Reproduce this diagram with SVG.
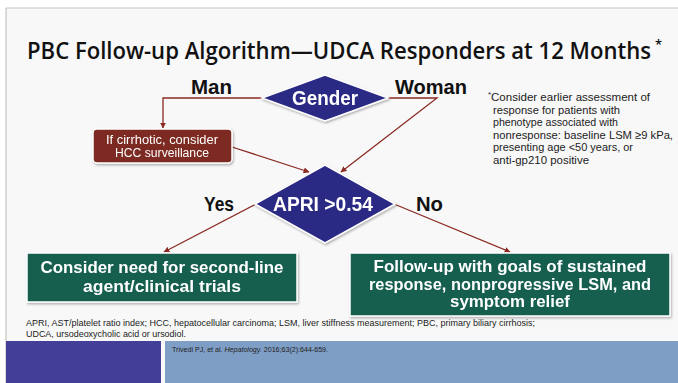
<svg xmlns="http://www.w3.org/2000/svg" width="678" height="383" viewBox="0 0 678 383">
  <defs>
    <style>
      .title { font-family: "Open Sans", "Liberation Sans", sans-serif; font-size: 23px; font-weight: 600; fill: #111; }
      .lbl { font-family: "Liberation Sans", "Noto Sans", sans-serif; font-size: 20px; font-weight: bold; fill: #111; }
      .dtxt { font-family: "Liberation Sans", "Noto Sans", sans-serif; font-size: 20px; font-weight: bold; fill: #fff; text-anchor: middle; }
      .btxt { font-family: "Liberation Sans", "Noto Sans", sans-serif; font-size: 17px; font-weight: bold; fill: #fff; text-anchor: middle; }
      .stxt { font-family: "Liberation Sans", "Noto Sans", sans-serif; font-size: 12px; fill: #fff; text-anchor: middle; }
      .note { font-family: "Liberation Sans", "Noto Sans", sans-serif; font-size: 11.5px; fill: #222; }
      .sup { font-family: "Liberation Sans", "Noto Sans", sans-serif; font-size: 8px; fill: #222; }
      .tsup { font-family: "Open Sans", "Liberation Sans", sans-serif; font-size: 13px; font-weight: 600; fill: #111; }
      .foot { font-family: "Liberation Sans", "Noto Sans", sans-serif; font-size: 9.5px; fill: #222; }
      .cite { font-family: "Liberation Sans", "Noto Sans", sans-serif; font-size: 7px; fill: #222; }
      .diamond { fill: #2c2a85; stroke: #ffffff; stroke-width: 1.5; }
      .green { fill: #155f50; stroke: #ffffff; stroke-width: 1.5; }
      .red { fill: #7b2b22; stroke: #ffffff; stroke-width: 1.5; }
      .conn { fill: none; stroke: #8a2a22; stroke-width: 1.3; }
    </style>
    <marker id="arrow" viewBox="0 0 10 10" refX="9" refY="5" markerWidth="6" markerHeight="6" orient="auto" markerUnits="userSpaceOnUse">
      <path d="M0,0 L10,5 L0,10 z" fill="#8a2a22"/>
    </marker>
    <filter id="shadow" x="-10%" y="-10%" width="120%" height="130%">
      <feDropShadow dx="1" dy="1.5" stdDeviation="1.2" flood-color="#000" flood-opacity="0.3"/>
    </filter>
  </defs>

  <!-- slide page -->
  <rect x="0" y="0" width="678" height="383" fill="#ffffff"/>
  <rect x="6" y="8" width="672" height="375" fill="#f8f8f8"/>
  <line x1="6" y1="8" x2="678" y2="8" stroke="#c4c4c4" stroke-width="1.2"/>
  <line x1="6" y1="8" x2="6" y2="383" stroke="#c4c4c4" stroke-width="1.2"/>

  <!-- title -->
  <text class="title" x="27" y="59" textLength="624" lengthAdjust="spacingAndGlyphs">PBC Follow-up Algorithm—UDCA Responders at 12 Months</text>
  <text class="tsup" x="655" y="49">*</text>

  <!-- connectors -->
  <g id="connectors">
    <polyline class="conn" points="262,98 163,98 163,128" marker-end="url(#arrow)"/>
    <polyline class="conn" points="388,98 437,98 341,172" marker-end="url(#arrow)"/>
    <line class="conn" x1="232" y1="147" x2="309" y2="172" marker-end="url(#arrow)"/>
    <line class="conn" x1="256" y1="204" x2="164" y2="252" marker-end="url(#arrow)"/>
    <line class="conn" x1="394" y1="204" x2="510" y2="252" marker-end="url(#arrow)"/>
  </g>

  <!-- branch labels -->
  <text class="lbl" x="191" y="94" textLength="41" lengthAdjust="spacingAndGlyphs">Man</text>
  <text class="lbl" x="395" y="94" textLength="72" lengthAdjust="spacingAndGlyphs">Woman</text>
  <text class="lbl" x="204" y="211" textLength="30" lengthAdjust="spacingAndGlyphs">Yes</text>
  <text class="lbl" x="416" y="211" textLength="27" lengthAdjust="spacingAndGlyphs">No</text>

  <!-- Gender decision -->
  <g id="gender" filter="url(#shadow)">
    <polygon class="diamond" points="325,75 388,98 325,121 262,98"/>
    <text class="dtxt" x="325" y="105" textLength="66" lengthAdjust="spacingAndGlyphs">Gender</text>
  </g>

  <!-- HCC surveillance box -->
  <g id="hcc" filter="url(#shadow)">
    <rect class="red" x="93" y="129" width="139" height="34" rx="4"/>
    <text class="stxt" x="162" y="144" textLength="112" lengthAdjust="spacingAndGlyphs">If cirrhotic, consider</text>
    <text class="stxt" x="162" y="157" textLength="94" lengthAdjust="spacingAndGlyphs">HCC surveillance</text>
  </g>

  <!-- APRI decision -->
  <g id="apri" filter="url(#shadow)">
    <polygon class="diamond" points="325,165 395,204 325,243 255,204"/>
    <text class="dtxt" x="323" y="211" textLength="100" lengthAdjust="spacingAndGlyphs">APRI &gt;0.54</text>
  </g>

  <!-- outcome: second-line -->
  <g id="second-line" filter="url(#shadow)">
    <rect class="green" x="27" y="253" width="270" height="49"/>
    <text class="btxt" x="162" y="273" textLength="243" lengthAdjust="spacingAndGlyphs">Consider need for second-line</text>
    <text class="btxt" x="162" y="292" textLength="158" lengthAdjust="spacingAndGlyphs">agent/clinical trials</text>
  </g>

  <!-- outcome: follow-up -->
  <g id="follow-up" filter="url(#shadow)">
    <rect class="green" x="350" y="253" width="320" height="63"/>
    <text class="btxt" x="510" y="272" textLength="273" lengthAdjust="spacingAndGlyphs">Follow-up with goals of sustained</text>
    <text class="btxt" x="510" y="289.5" textLength="282" lengthAdjust="spacingAndGlyphs">response, nonprogressive LSM, and</text>
    <text class="btxt" x="510" y="307" textLength="120" lengthAdjust="spacingAndGlyphs">symptom relief</text>
  </g>

  <!-- side note -->
  <g id="note">
    <text class="sup" x="488" y="97">*</text>
    <text class="note" x="491" y="101" textLength="159" lengthAdjust="spacingAndGlyphs">Consider earlier assessment of</text>
    <text class="note" x="493" y="113.5" textLength="127" lengthAdjust="spacingAndGlyphs">response for patients with</text>
    <text class="note" x="493" y="126" textLength="125" lengthAdjust="spacingAndGlyphs">phenotype associated with</text>
    <text class="note" x="493" y="138.5" textLength="180" lengthAdjust="spacingAndGlyphs">nonresponse: baseline LSM ≥9 kPa,</text>
    <text class="note" x="493" y="151" textLength="140" lengthAdjust="spacingAndGlyphs">presenting age &lt;50 years, or</text>
    <text class="note" x="493" y="163.5" textLength="96" lengthAdjust="spacingAndGlyphs">anti-gp210 positive</text>
  </g>

  <!-- abbreviations -->
  <text class="foot" x="26" y="326" textLength="509" lengthAdjust="spacingAndGlyphs">APRI, AST/platelet ratio index; HCC, hepatocellular carcinoma; LSM, liver stiffness measurement; PBC, primary biliary cirrhosis;</text>
  <text class="foot" x="26" y="337" textLength="160" lengthAdjust="spacingAndGlyphs">UDCA, ursodeoxycholic acid or ursodiol.</text>

  <!-- footer bands -->
  <rect x="6" y="341" width="155" height="42" fill="#433f99"/>
  <rect x="165" y="341" width="513" height="42" fill="#7f9ec6"/>
  <text class="cite" x="172" y="352" textLength="156" lengthAdjust="spacingAndGlyphs">Trivedi PJ, et al. <tspan font-style="italic">Hepatology.</tspan> 2016;63(2):644-659.</text>
</svg>
